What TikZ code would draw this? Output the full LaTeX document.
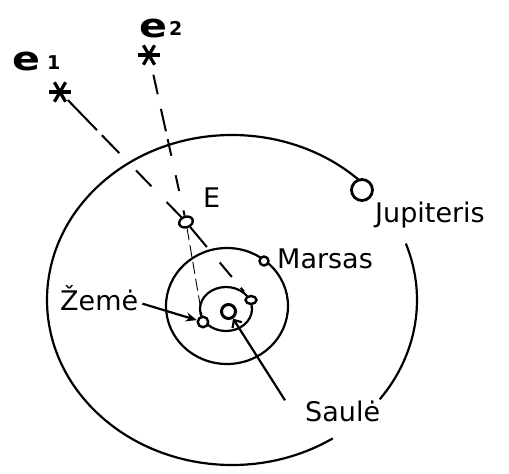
\documentclass[tikz,border=0pt]{standalone}
\usepackage{fontspec}
\setmainfont{DejaVu Sans}
\usetikzlibrary{arrows.meta,calc,shapes.geometric}
\begin{document}
\begin{tikzpicture}[x=1pt,y=-1pt,
  orbit/.style={line width=2.2pt},
  planet/.style={circle,draw,fill=white,line width=2.4pt,inner sep=0pt},
  oval/.style={ellipse,draw,fill=white,line width=2.4pt,inner sep=0pt},
  starpt/.style={circle,inner sep=0pt,minimum size=22pt},
  asterisk/.style={line width=3.2pt},
  lbl/.style={font=\fontsize{27}{30}\selectfont,inner sep=0pt,anchor=base west},
  elbl/.style={font=\fontsize{33}{34}\selectfont\bfseries,inner sep=0pt,anchor=base west},
  idx/.style={font=\fontsize{19}{20}\selectfont\bfseries,inner sep=0pt,anchor=base west},
  sight/.style={line width=2pt},
  faint/.style={line width=0.9pt,dash pattern=on 12pt off 5pt},
  pointer/.style={line width=2.2pt}
]
\useasboundingbox (0,0) rectangle (509,474);

% orbits
\draw[orbit] ($(232,300)+(-44:185 and 165)$) arc[start angle=-44,end angle=-303,x radius=185,y radius=165];
\draw[orbit] ($(232,300)+(-20:185 and 165)$) arc[start angle=-20,end angle=37,x radius=185,y radius=165];
\draw[orbit] (227,306) ellipse [x radius=61,y radius=58];
\draw[orbit] (226,309) ellipse [x radius=26,y radius=22];

% bodies
\node[planet,minimum size=21pt,line width=2.8pt] (jup) at (362,190) {};
\node[planet,minimum size=9pt] (mars) at (264,261) {};
\node[planet,minimum size=14pt,line width=3pt] (sun) at (228.5,311.5) {};
\node[planet,minimum size=10.5pt] (earth1) at (203,322) {};
\node[oval,minimum width=11pt,minimum height=8pt] (earth2) at (251,300) {};
\node[oval,minimum width=14pt,minimum height=10.5pt,rotate=20] (E) at (186,222) {};

% stars
\node[starpt] (e1s) at (60,92) {};
\node[starpt] (e2s) at (149,55) {};
\foreach \s in {e1s,e2s}{
  \draw[asterisk] (\s.0) -- (\s.180);
  \draw[asterisk] (\s.60) -- (\s.240);
  \draw[asterisk] (\s.120) -- (\s.300);
}

% labels
\node[elbl] (e1l) at (12,70) {\scalebox{1.25}[1]{e}};
\node[idx] (e1i) at (47,69) {1};
\node[elbl] (e2l) at (139,37) {\scalebox{1.25}[1]{e}};
\node[idx] (e2i) at (169,35) {2};
\node[lbl] (Elbl) at (203,207) {E};
\node[lbl] (jupl) at (375,222) {Jupiteris};
\node[lbl] (marsl) at (277,268) {Marsas};
\node[lbl] (zeme) at (60,310) {Žemė};
\node[lbl] (saule) at (305,421) {Saulė};

% sight lines
\draw[sight,dash pattern=on 42pt off 7pt on 25pt off 24pt on 22pt off 22pt on 25pt off 10pt] (e1s) -- (E);
\draw[sight,dash pattern=on 26pt off 20pt on 19pt off 14pt on 5pt off 30pt] (E) -- (earth2);
\draw[sight,shorten <=9pt,dash pattern=on 20pt off 15pt on 23pt off 8pt on 17pt off 20pt on 16pt off 20pt] (e2s) -- (E);
\draw[faint] (E) -- (earth1);

% pointers
\draw[pointer,-{Stealth[length=11pt,width=9pt]}] ([shift={(4pt,-6pt)}]zeme.east) -- (earth1);
\draw[pointer,-{Straight Barb[length=6pt,width=11pt]}] ([xshift=-20pt]saule.north west) -- (sun);
\end{tikzpicture}
\end{document}
